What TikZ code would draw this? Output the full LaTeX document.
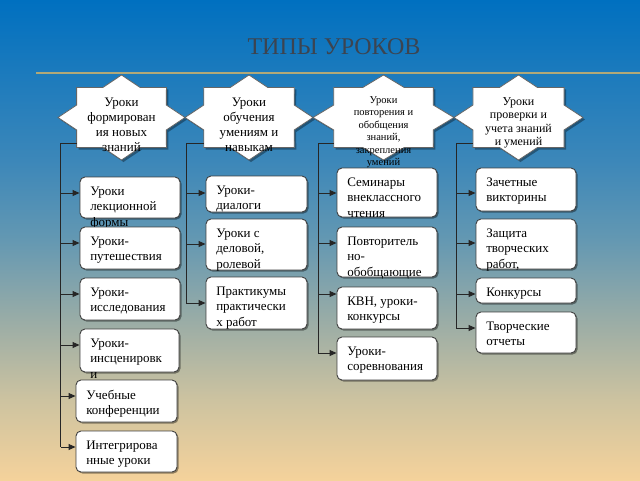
\documentclass[tikz,border=0pt]{standalone}
\usepackage{fontspec}
\setmainfont{Liberation Serif}
\usetikzlibrary{arrows.meta,shadows}
\definecolor{g0}{RGB}{245,210,155}
\definecolor{g1}{RGB}{205,195,160}
\definecolor{g2}{RGB}{160,175,165}
\definecolor{g3}{RGB}{100,152,178}
\definecolor{g4}{RGB}{60,135,185}
\definecolor{g5}{RGB}{0,112,192}
\definecolor{titlec}{RGB}{60,68,80}
\definecolor{rulec}{RGB}{176,168,120}
\pgfdeclareverticalshading{bgshade}{100bp}{color(0bp)=(g0); color(25bp)=(g0); color(33.3bp)=(g1); color(40.6bp)=(g2); color(50bp)=(g3); color(58.3bp)=(g4); color(75bp)=(g5); color(100bp)=(g5)}
\tikzset{
  starsty/.style={draw=black!60, fill=white, line width=0.8pt,
    drop shadow={shadow xshift=2pt, shadow yshift=-2pt, opacity=0.35, fill=black}},
  lbox/.style={draw=black!75, fill=white, line width=0.9pt, rounded corners=5pt,
    drop shadow={shadow xshift=1.5pt, shadow yshift=-1.5pt, opacity=0.4, fill=black}},
  ltxt/.style={anchor=north west, inner sep=0pt, align=left, font=\fontsize{13}{15.5}\selectfont},
  stxt/.style={anchor=north, inner sep=0pt, align=center},
  conn/.style={draw=black!85, line width=0.9pt},
  arr/.style={conn, -{Triangle[length=7pt,width=6pt]}}
}
\newcommand\lbox[6]{%
  \node[lbox, minimum width={(#4)-(#2)}, minimum height={(#5)-(#3)}] (#1) at ({((#2)+(#4))/2},{((#3)+(#5))/2}) {};
  \node[ltxt] (#1t) at ([shift={(10.5pt,-10pt)}]#1.north west) {#6};}
\newcommand\starshape[4]{%
  \pgfmathsetmacro\irx{0.765*#3}\pgfmathsetmacro\iry{0.765*#4}%
  \draw[starsty, shift={(#1,#2)}] (0:#3pt and #4pt)
  -- (22.5:\irx pt and \iry pt) -- (45:#3pt and #4pt)
  -- (67.5:\irx pt and \iry pt) -- (90:#3pt and #4pt)
  -- (112.5:\irx pt and \iry pt) -- (135:#3pt and #4pt)
  -- (157.5:\irx pt and \iry pt) -- (180:#3pt and #4pt)
  -- (202.5:\irx pt and \iry pt) -- (225:#3pt and #4pt)
  -- (247.5:\irx pt and \iry pt) -- (270:#3pt and #4pt)
  -- (292.5:\irx pt and \iry pt) -- (315:#3pt and #4pt)
  -- (337.5:\irx pt and \iry pt) -- cycle;}
\begin{document}
\begin{tikzpicture}[x=1pt,y=-1pt]
\useasboundingbox (0,0) rectangle (640,480);
\shade[shading=bgshade] (0,0) rectangle (640,480);
% title
\node[font=\fontsize{24}{28}\selectfont, text=titlec] (title) at (334,46.5) {ТИПЫ УРОКОВ};
\coordinate (rl) at (36,73);
\coordinate (rr) at (640,73);
\draw[rulec, line width=2pt] (rl) -- (rr);
% stars
\starshape{121.5}{117.5}{63.5}{42.5}
\starshape{249}{117.5}{64}{42.5}
\starshape{383.5}{117.5}{70.5}{42.5}
\starshape{518.5}{117.5}{64.5}{42.5}
% star exits and trunks
\coordinate (s1w) at (76.6,143);
\coordinate (s2w) at (203.7,143);
\coordinate (s3w) at (333.7,143);
\coordinate (s4w) at (472.9,143);
\coordinate (t1f) at (60.5,447);
\coordinate (t2f) at (186,303);
\coordinate (t3f) at (318,353);
\coordinate (t4f) at (456,328);
\draw[conn] (s1w) -| (t1f);
\draw[conn] (s2w) -| (t2f);
\draw[conn] (s3w) -| (t3f);
\draw[conn] (s4w) -| (t4f);
% column 1
\lbox{a1}{80}{177}{180}{218}{Уроки\\лекционной\\формы}
\lbox{a2}{80}{227}{180}{269}{Уроки-\\путешествия}
\lbox{a3}{80}{278}{180}{320}{Уроки-\\исследования}
\lbox{a4}{80}{329}{179}{372}{Уроки-\\инсценировк\\и}
\lbox{a5}{76}{380}{177}{422}{Учебные\\конференции}
\lbox{a6}{76}{431}{177}{472}{Интегрирова\\нные уроки}
% column 2
\lbox{b1}{206}{176}{307}{212}{Уроки-\\диалоги}
\lbox{b2}{206}{219}{307}{270}{Уроки с\\деловой,\\ролевой}
\lbox{b3}{206}{277}{307}{329}{Практикумы\\практически\\х работ}
% column 3
\lbox{c1}{337}{168}{437}{217}{Семинары\\внеклассного\\чтения}
\lbox{c2}{337}{227}{437}{277}{Повторитель\\но-\\обобщающие}
\lbox{c3}{337}{287}{437}{329}{КВН, уроки-\\конкурсы}
\lbox{c4}{337}{337}{437}{380}{Уроки-\\соревнования}
% column 4
\lbox{d1}{476}{168}{576}{211}{Зачетные\\викторины}
\lbox{d2}{476}{219}{576}{269}{Защита\\творческих\\работ,}
\lbox{d3}{476}{278}{576}{303}{Конкурсы}
\lbox{d4}{476}{312}{576}{353}{Творческие\\отчеты}
% arrows column 1
\coordinate (p11) at (60.5,193);
\coordinate (p12) at (60.5,243);
\coordinate (p13) at (60.5,294);
\coordinate (p14) at (60.5,345);
\coordinate (p15) at (60.5,396);
\coordinate (p16) at (60.5,447);
\draw[arr] (p11) -- (p11 -| a1.west);
\draw[arr] (p12) -- (p12 -| a2.west);
\draw[arr] (p13) -- (p13 -| a3.west);
\draw[arr] (p14) -- (p14 -| a4.west);
\draw[arr] (p15) -- (p15 -| a5.west);
\draw[arr] (p16) -- (p16 -| a6.west);
% arrows column 2
\coordinate (p21) at (186,193);
\coordinate (p22) at (186,244);
\coordinate (p23) at (186,303);
\draw[arr] (p21) -- (p21 -| b1.west);
\draw[arr] (p22) -- (p22 -| b2.west);
\draw[arr] (p23) -- (p23 -| b3.west);
% arrows column 3
\coordinate (p31) at (318,193);
\coordinate (p32) at (318,243);
\coordinate (p33) at (318,294);
\coordinate (p34) at (318,353);
\draw[arr] (p31) -- (p31 -| c1.west);
\draw[arr] (p32) -- (p32 -| c2.west);
\draw[arr] (p33) -- (p33 -| c3.west);
\draw[arr] (p34) -- (p34 -| c4.west);
% arrows column 4
\coordinate (p41) at (456,193);
\coordinate (p42) at (456,243);
\coordinate (p43) at (456,294);
\coordinate (p44) at (456,328);
\draw[arr] (p41) -- (p41 -| d1.west);
\draw[arr] (p42) -- (p42 -| d2.west);
\draw[arr] (p43) -- (p43 -| d3.west);
\draw[arr] (p44) -- (p44 -| d4.west);
% star texts
\node[stxt, font=\fontsize{13}{15}\selectfont] (s1) at (121.5,98) {Уроки\\формирован\\ия новых\\знаний};
\node[stxt, font=\fontsize{13}{15}\selectfont] (s2) at (249,98) {Уроки\\обучения\\умениям и\\навыкам};
\node[stxt, font=\fontsize{10.5}{12.5}\selectfont] (s3) at (383.5,96) {Уроки\\повторения и\\обобщения\\знаний,\\закрепления\\умений};
\node[stxt, font=\fontsize{12}{13.5}\selectfont] (s4) at (518.5,97) {Уроки\\проверки и\\учета знаний\\и умений};
\end{tikzpicture}
\end{document}
